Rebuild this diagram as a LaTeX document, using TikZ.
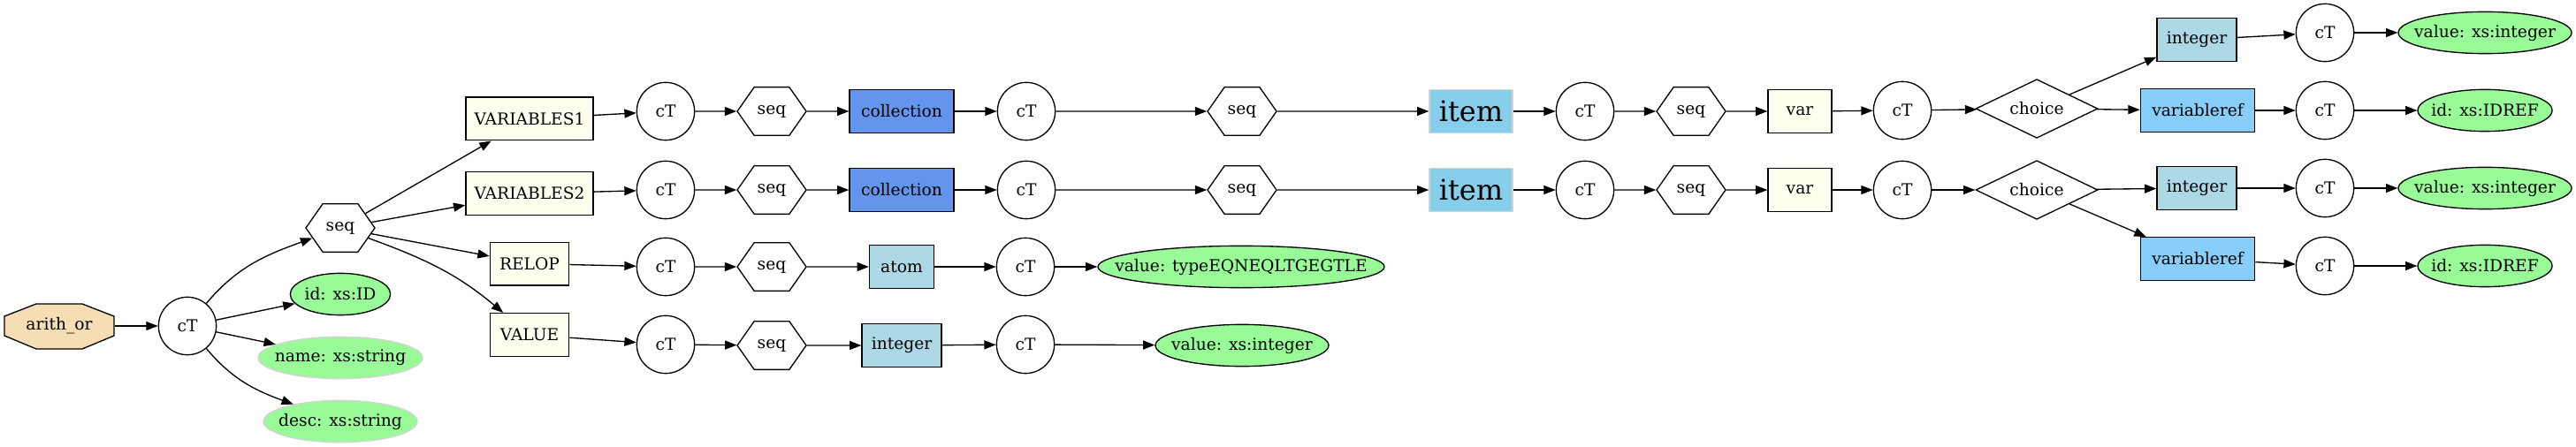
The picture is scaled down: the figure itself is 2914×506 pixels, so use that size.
\documentclass[tikz,border=0pt]{standalone}
\usepackage{fontspec}
\setmainfont{DejaVu Serif}
\usetikzlibrary{arrows.meta,shapes.geometric,shapes.symbols}
\definecolor{wheat}{HTML}{F5DEB3}
\definecolor{palegreen}{HTML}{98FB98}
\definecolor{ivory}{HTML}{FFFFF0}
\definecolor{lightblue}{HTML}{ADD8E6}
\definecolor{cornflower}{HTML}{6495ED}
\definecolor{skyblue}{HTML}{87CEEB}
\definecolor{lightskyblue}{HTML}{87CEFA}
\definecolor{lightgrey}{HTML}{D3D3D3}

\begin{document}
\begin{tikzpicture}[x=0.75pt,y=-0.75pt]
\tikzset{every node/.style={font=\fontsize{14}{16}\selectfont,line width=1pt,inner sep=2pt},
	link/.style={line width=1pt,-{Triangle[length=10pt,width=7.5pt]}},
	narrow/.style={execute at begin node=\hbox to 0pt\bgroup\hss,execute at end node=\hss\egroup},
	ctnode/.style={draw,circle,minimum size=49pt},
	seqnode/.style={draw,signal,signal to=east and west,signal pointer angle=110,
		minimum width=58.5pt,minimum height=41pt,inner sep=0pt},
	elbox/.style={draw,rectangle,minimum height=36.5pt,minimum width=#1},
	attr/.style={draw,ellipse,fill=palegreen,narrow,inner sep=0pt,minimum height=35.5pt,minimum width=#1},
	choicenode/.style={draw,diamond,narrow,inner sep=0pt,minimum width=103.5pt,minimum height=50pt}
}
\useasboundingbox (0,0) rectangle (2914,506);
% root
\draw[line width=1pt,fill=wheat] (5,358) -- (5,380) -- (41,395) -- (93,395) -- (129,380)
	-- (129,358) -- (93,344) -- (41,344) -- cycle;
\node[minimum width=93pt,minimum height=38pt] (ao) at (67,369) {arith\_or};
\node[ctnode] (ct0) at (212,369) {cT};
\node[seqnode] (sq0) at (385,258) {seq};
\node[attr=85pt] (idx) at (385,333) {id: xs:ID};
\node[attr=139.5pt,draw=lightgrey] (nm) at (385,405) {name: xs:string};
\node[attr=130.5pt,draw=lightgrey] (ds) at (385,477) {desc: xs:string};
\node[elbox=108pt,fill=ivory] (v1) at (599,134.5) {VARIABLES1};
\node[elbox=108pt,fill=ivory] (v2) at (599,219) {VARIABLES2};
\node[elbox=67pt,fill=ivory] (rel) at (599,298.5) {RELOP};
\node[elbox=67pt,fill=ivory] (val) at (599,379) {VALUE};
% VARIABLES1
\node[ctnode] (c1a) at (753,126) {cT};
\node[seqnode] (s1a) at (873,126) {seq};
\node[elbox=88.5pt,fill=cornflower] (col1) at (1020,126) {collection};
\node[ctnode] (c1b) at (1161,126) {cT};
\node[seqnode] (s1b) at (1405,126) {seq};
\node[elbox=70.5pt,fill=skyblue,draw=lightgrey,font=\fontsize{24}{28}\selectfont] (it1) at (1664,126) {item};
\node[ctnode] (c1c) at (1793,126) {cT};
\node[seqnode] (s1c) at (1913,126) {seq};
\node[elbox=54pt,fill=ivory] (var1) at (2036,126) {var};
\node[ctnode] (c1d) at (2152,125) {cT};
\node[choicenode] (ch1) at (2304,123) {choice};
\node[elbox=67.5pt,fill=lightblue] (int1) at (2485,45) {integer};
\node[ctnode] (c1e) at (2630,37) {cT};
\node[attr=147pt] (val1) at (2811,37) {value: xs:integer};
\node[elbox=97pt,fill=lightskyblue] (vr1) at (2486,125) {variableref};
\node[ctnode] (c1f) at (2630,125) {cT};
\node[attr=114pt] (ref1) at (2811,125) {id: xs:IDREF};
% VARIABLES2
\node[ctnode] (c2a) at (753,215) {cT};
\node[seqnode] (s2a) at (873,215) {seq};
\node[elbox=88.5pt,fill=cornflower] (col2) at (1020,215) {collection};
\node[ctnode] (c2b) at (1161,215) {cT};
\node[seqnode] (s2b) at (1405,215) {seq};
\node[elbox=70.5pt,fill=skyblue,draw=lightgrey,font=\fontsize{24}{28}\selectfont] (it2) at (1664,215) {item};
\node[ctnode] (c2c) at (1793,215) {cT};
\node[seqnode] (s2c) at (1913,215) {seq};
\node[elbox=54pt,fill=ivory] (var2) at (2036,215) {var};
\node[ctnode] (c2d) at (2152,215) {cT};
\node[choicenode] (ch2) at (2304,215) {choice};
\node[elbox=67.5pt,fill=lightblue] (int2) at (2485,213) {integer};
\node[ctnode] (c2e) at (2630,213) {cT};
\node[attr=147pt] (val2) at (2811,213) {value: xs:integer};
\node[elbox=97pt,fill=lightskyblue] (vr2) at (2486,293) {variableref};
\node[ctnode] (c2f) at (2630,301) {cT};
\node[attr=114pt] (ref2) at (2811,301) {id: xs:IDREF};
% RELOP, VALUE
\node[ctnode] (c3a) at (753,302) {cT};
\node[seqnode] (s3a) at (873,302) {seq};
\node[elbox=54.75pt,fill=lightblue] (atm) at (1020,302) {atom};
\node[ctnode] (c3b) at (1160,302) {cT};
\node[attr=243pt] (tv) at (1404,302) {value: typeEQNEQLTGEGTLE};
\node[ctnode] (c4a) at (753,390) {cT};
\node[seqnode] (s4a) at (873,391) {seq};
\node[elbox=67.5pt,fill=lightblue] (int4) at (1020,391) {integer};
\node[ctnode] (c4b) at (1160,390) {cT};
\node[attr=147pt] (iv) at (1405,391) {value: xs:integer};

\draw[link] (ct0) to[out=50,in=200] (sq0);
\draw[link] (ct0) to[out=-50,in=160] (ds);
\draw[link] (sq0) to[out=-20,in=140] (val);
\foreach \a/\b in {ao/ct0,ct0/idx,ct0/nm,sq0/v1,sq0/v2,sq0/rel,
	v1/c1a,c1a/s1a,s1a/col1,col1/c1b,c1b/s1b,s1b/it1,it1/c1c,c1c/s1c,s1c/var1,var1/c1d,c1d/ch1,
	ch1/int1,int1/c1e,c1e/val1,ch1/vr1,vr1/c1f,c1f/ref1,
	v2/c2a,c2a/s2a,s2a/col2,col2/c2b,c2b/s2b,s2b/it2,it2/c2c,c2c/s2c,s2c/var2,var2/c2d,c2d/ch2,
	ch2/int2,int2/c2e,c2e/val2,ch2/vr2,vr2/c2f,c2f/ref2,
	rel/c3a,c3a/s3a,s3a/atm,atm/c3b,c3b/tv,val/c4a,c4a/s4a,s4a/int4,int4/c4b,c4b/iv}
	\draw[link] (\a) -- (\b);
\end{tikzpicture}
\end{document}
